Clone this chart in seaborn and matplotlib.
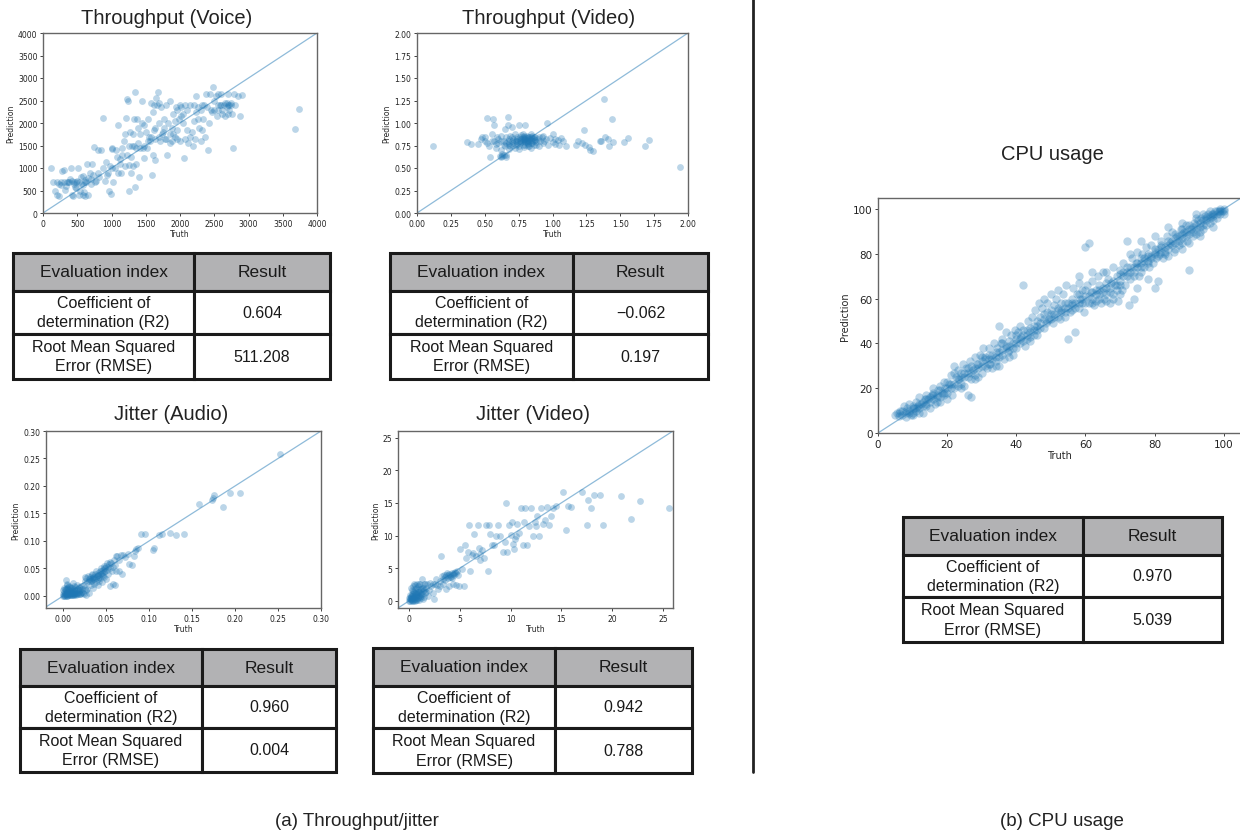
import numpy as np
import pandas as pd
import matplotlib.pyplot as plt
import seaborn as sns
from matplotlib.lines import Line2D

# ---- data ---------------------------------------------------------------
voice_pts = [
    (110, 1000), (150, 700), (180, 480), (200, 690), (210, 390), (230, 380), (240, 650), (260, 700),
    (280, 940), (300, 950), (300, 680), (320, 520), (340, 600), (350, 700), (360, 690), (380, 700),
    (400, 760), (410, 1000), (420, 400), (440, 380), (450, 700), (450, 650), (470, 580), (480, 550),
    (500, 720), (510, 1000), (520, 400), (530, 680), (540, 500), (560, 800), (580, 620), (580, 400),
    (590, 830), (600, 460), (610, 700), (620, 380), (630, 680), (640, 1100), (650, 400), (660, 780),
    (680, 900), (700, 650), (700, 760), (720, 1100), (730, 850), (750, 1470), (760, 700), (780, 720),
    (800, 1400), (800, 900), (820, 800), (850, 1410), (870, 1000), (880, 2120), (900, 720), (920, 1140),
    (940, 850), (950, 900), (960, 500), (980, 1050), (990, 430), (1000, 1450), (1000, 1000), (1010, 1430),
    (1020, 700), (1050, 1000), (1080, 1250), (1100, 1950), (1100, 900), (1120, 1200), (1140, 880),
    (1150, 1450), (1160, 1300), (1180, 1600), (1200, 1750), (1200, 1050), (1210, 2110), (1230, 2540),
    (1230, 1300), (1240, 2500), (1250, 1060), (1250, 1500), (1260, 490), (1270, 1800), (1280, 1250),
    (1290, 880), (1300, 1500), (1310, 1750), (1320, 1050), (1330, 2100), (1330, 1500), (1340, 580),
    (1350, 2680), (1360, 1450), (1370, 2100), (1380, 1900), (1380, 1550), (1400, 790), (1420, 1750),
    (1420, 1450), (1440, 2500), (1450, 2000), (1460, 1450), (1470, 1220), (1480, 1500), (1500, 1800),
    (1520, 1450), (1540, 2100), (1540, 1600), (1550, 1700), (1560, 1600), (1580, 2450), (1580, 1700),
    (1590, 840), (1600, 2250), (1610, 1300), (1620, 1850), (1630, 1170), (1640, 1650), (1640, 1900),
    (1650, 2550), (1660, 2400), (1680, 2700), (1700, 2000), (1700, 1700), (1710, 1600), (1720, 2350),
    (1740, 1750), (1750, 1800), (1760, 2100), (1780, 1650), (1800, 2400), (1800, 1650), (1810, 1300),
    (1830, 2000), (1850, 1750), (1850, 1550), (1860, 2500), (1880, 1600), (1880, 1900), (1900, 2200),
    (1920, 1700), (1920, 2050), (1940, 2350), (1960, 1850), (1960, 2300), (1980, 2100), (2000, 1600),
    (2000, 2400), (2020, 2350), (2040, 2000), (2050, 2200), (2060, 1220), (2080, 1650), (2080, 2400),
    (2100, 2300), (2120, 1550), (2150, 2400), (2150, 1700), (2170, 1800), (2190, 1500), (2200, 2050),
    (2200, 2400), (2220, 1650), (2240, 2600), (2260, 2350), (2260, 2100), (2280, 1900), (2300, 1600),
    (2300, 2300), (2320, 2400), (2340, 2100), (2350, 2400), (2360, 1700), (2380, 2650), (2400, 2350),
    (2410, 1400), (2420, 2000), (2440, 2650), (2450, 2300), (2460, 2250), (2480, 2800), (2500, 2300),
    (2520, 2600), (2540, 2150), (2550, 2300), (2560, 2650), (2580, 2400), (2600, 2650), (2600, 2400),
    (2620, 2200), (2640, 2400), (2650, 2450), (2660, 2150), (2680, 2350), (2700, 2650), (2700, 2400),
    (2700, 2200), (2720, 2400), (2720, 2300), (2740, 2400), (2750, 2450), (2760, 2200), (2780, 1450),
    (2790, 2650), (2810, 2400), (2840, 2600), (2880, 2150), (2900, 2620), (3680, 1870), (3740, 2310),
    (1900, 1750), (1950, 1650), (2010, 2150), (2100, 1850), (2240, 2250), (2320, 1850), (2500, 2500),
    (2560, 2400), (2610, 2300), (2680, 2450), (1700, 2450), (1760, 1900), (1620, 2400), (1480, 1950),
    (560, 650), (620, 730), (480, 680), (260, 620), (420, 720), (1060, 1400), (1130, 1100), (1360, 1100),
]

video_tp_pts = [
    (0.12, 0.75), (0.37, 0.79), (0.40, 0.77), (0.45, 0.77), (0.47, 0.82), (0.48, 0.85), (0.50, 0.80),
    (0.50, 0.84), (0.52, 1.06), (0.52, 0.78), (0.53, 0.75), (0.54, 0.62), (0.55, 0.88), (0.55, 0.80),
    (0.56, 1.04), (0.57, 0.98), (0.57, 0.80), (0.58, 0.72), (0.58, 0.77), (0.59, 0.84), (0.60, 0.78),
    (0.60, 0.82), (0.61, 0.63), (0.62, 0.70), (0.62, 0.86), (0.62, 0.80), (0.62, 0.62), (0.63, 0.63),
    (0.63, 0.66), (0.64, 0.80), (0.64, 0.76), (0.64, 0.64), (0.65, 0.75), (0.65, 0.93), (0.66, 0.62),
    (0.66, 0.84), (0.66, 0.78), (0.66, 0.65), (0.67, 1.07), (0.67, 0.98), (0.67, 0.80), (0.68, 0.71),
    (0.68, 0.78), (0.68, 0.82), (0.69, 0.86), (0.69, 0.74), (0.70, 0.96), (0.70, 0.76), (0.70, 0.80),
    (0.71, 0.82), (0.71, 0.78), (0.72, 0.72), (0.72, 0.88), (0.72, 0.80), (0.73, 0.80), (0.73, 0.76),
    (0.74, 0.77), (0.74, 0.85), (0.74, 0.80), (0.75, 0.98), (0.75, 0.74), (0.75, 0.71), (0.76, 0.82),
    (0.76, 0.78), (0.76, 0.84), (0.77, 0.79), (0.77, 0.87), (0.77, 0.82), (0.78, 0.76), (0.78, 0.84),
    (0.78, 0.80), (0.78, 0.88), (0.79, 0.81), (0.79, 0.73), (0.79, 0.86), (0.80, 0.98), (0.80, 0.79),
    (0.80, 0.82), (0.80, 0.76), (0.81, 0.86), (0.81, 0.83), (0.81, 0.79), (0.82, 0.77), (0.82, 0.80),
    (0.82, 0.84), (0.82, 0.74), (0.83, 0.75), (0.83, 0.84), (0.83, 0.80), (0.84, 0.88), (0.84, 0.81),
    (0.84, 0.78), (0.84, 0.72), (0.85, 0.78), (0.85, 0.83), (0.85, 0.86), (0.86, 0.76), (0.86, 0.80),
    (0.86, 0.82), (0.87, 0.85), (0.87, 0.81), (0.88, 0.79), (0.88, 0.76), (0.89, 0.82), (0.90, 0.75),
    (0.90, 0.84), (0.91, 0.80), (0.92, 0.84), (0.93, 0.78), (0.93, 0.86), (0.94, 0.80), (0.95, 0.82),
    (0.96, 1.00), (0.97, 0.76), (0.98, 0.83), (1.00, 0.88), (1.00, 0.79), (1.02, 0.82), (1.02, 0.77),
    (1.04, 0.81), (1.05, 0.76), (1.06, 0.83), (1.08, 0.80), (1.10, 0.75), (1.17, 0.76), (1.19, 0.80),
    (1.22, 0.78), (1.23, 0.92), (1.24, 0.76), (1.27, 0.73), (1.28, 0.70), (1.30, 0.69), (1.35, 0.80),
    (1.36, 0.80), (1.38, 1.27), (1.39, 0.85), (1.41, 0.82), (1.42, 0.75), (1.44, 1.04), (1.45, 0.79),
    (1.53, 0.79), (1.56, 0.83), (1.68, 0.75), (1.71, 0.81), (1.94, 0.51),
    (0.79, 0.83), (0.81, 0.81), (0.83, 0.82), (0.80, 0.84), (0.78, 0.82), (0.85, 0.80), (0.76, 0.80),
    (0.82, 0.78), (0.84, 0.84), (0.80, 0.80), (0.86, 0.84), (0.74, 0.82), (0.70, 0.84), (0.68, 0.76),
]

audio_pts = [
    (0.000, 0.000), (0.001, 0.002), (0.002, 0.000), (0.002, 0.005), (0.003, 0.001), (0.003, 0.010),
    (0.004, 0.003), (0.004, 0.015), (0.005, 0.000), (0.005, 0.007), (0.006, 0.002), (0.006, 0.012),
    (0.007, 0.004), (0.007, 0.018), (0.008, 0.001), (0.008, 0.009), (0.009, 0.005), (0.009, 0.014),
    (0.010, 0.002), (0.010, 0.010), (0.011, 0.006), (0.011, 0.024), (0.012, 0.003), (0.012, 0.013),
    (0.013, 0.008), (0.014, 0.004), (0.014, 0.016), (0.015, 0.010), (0.016, 0.006), (0.016, 0.020),
    (0.017, 0.012), (0.018, 0.008), (0.019, 0.015), (0.020, 0.010), (0.021, 0.018), (0.022, 0.012),
    (0.023, 0.005), (0.024, 0.020), (0.025, 0.015), (0.026, 0.010), (0.003, 0.029), (0.001, 0.008),
    (0.000, 0.004), (0.002, 0.012), (0.004, 0.020), (0.006, 0.008), (0.008, 0.016), (0.010, 0.005),
    (0.012, 0.018), (0.005, 0.022), (0.001, 0.015), (0.000, 0.010), (0.003, 0.006), (0.007, 0.010),
    (0.009, 0.002), (0.013, 0.001), (0.015, 0.002), (0.017, 0.004), (0.019, 0.003), (0.021, 0.006),
    (0.024, 0.003), (0.027, 0.002), (0.018, 0.017), (0.001, 0.000), (0.004, 0.000), (0.006, 0.005),
    (0.008, 0.003), (0.011, 0.001), (0.013, 0.011), (0.015, 0.006), (0.020, 0.004), (0.022, 0.008),
    (0.025, 0.028), (0.027, 0.032), (0.028, 0.025), (0.030, 0.030), (0.031, 0.035), (0.032, 0.028),
    (0.033, 0.032), (0.034, 0.038), (0.035, 0.030), (0.036, 0.034), (0.037, 0.040), (0.038, 0.033),
    (0.039, 0.036), (0.040, 0.042), (0.041, 0.038), (0.042, 0.035), (0.043, 0.045), (0.044, 0.040),
    (0.045, 0.038), (0.046, 0.048), (0.047, 0.043), (0.048, 0.050), (0.049, 0.045), (0.050, 0.055),
    (0.051, 0.048), (0.052, 0.052), (0.053, 0.058), (0.055, 0.050), (0.056, 0.060), (0.058, 0.053),
    (0.060, 0.056), (0.061, 0.045), (0.062, 0.073), (0.063, 0.072), (0.065, 0.066), (0.067, 0.074),
    (0.070, 0.075), (0.072, 0.070), (0.075, 0.076), (0.077, 0.058), (0.080, 0.056), (0.082, 0.072),
    (0.083, 0.082), (0.085, 0.085), (0.087, 0.088), (0.090, 0.113), (0.095, 0.113), (0.104, 0.084),
    (0.106, 0.088), (0.112, 0.111), (0.115, 0.112), (0.124, 0.114), (0.131, 0.111), (0.140, 0.113),
    (0.158, 0.168), (0.173, 0.174), (0.174, 0.178), (0.176, 0.184), (0.186, 0.162), (0.194, 0.187),
    (0.206, 0.187), (0.252, 0.259), (0.040, 0.020), (0.045, 0.025), (0.055, 0.018), (0.058, 0.022),
    (0.060, 0.020), (0.050, 0.030), (0.035, 0.015), (0.030, 0.005), (0.028, 0.012), (0.032, 0.020),
    (0.038, 0.025), (0.065, 0.045), (0.068, 0.040), (0.042, 0.028), (0.036, 0.022), (0.048, 0.035),
    (0.052, 0.040), (0.057, 0.045), (0.025, 0.034), (0.029, 0.036), (0.033, 0.040), (0.038, 0.045),
    (0.044, 0.050), (0.047, 0.055), (0.051, 0.060), (0.054, 0.062), (0.059, 0.065), (0.040, 0.031),
    (0.043, 0.033), (0.046, 0.036), (0.034, 0.027), (0.031, 0.031), (0.036, 0.031),
    (0.002, 0.003), (0.005, 0.004), (0.007, 0.001), (0.009, 0.008), (0.011, 0.004), (0.014, 0.009),
    (0.016, 0.003), (0.018, 0.011), (0.003, 0.013), (0.006, 0.016), (0.010, 0.014), (0.013, 0.006),
    (0.035, 0.035), (0.040, 0.038), (0.045, 0.042), (0.030, 0.027), (0.044, 0.046), (0.049, 0.050),
]

jitter_video_pts = [
    (0.0, 0.0), (0.1, 0.3), (0.2, 0.1), (0.2, 0.6), (0.3, 0.2), (0.3, 1.0), (0.4, 0.4), (0.4, 1.5),
    (0.5, 0.1), (0.5, 0.8), (0.6, 0.3), (0.6, 1.2), (0.7, 0.6), (0.7, 2.0), (0.8, 0.2), (0.8, 1.0),
    (0.9, 0.5), (0.9, 1.6), (1.0, 0.8), (1.0, 2.5), (1.1, 1.2), (1.2, 0.4), (1.2, 1.8), (1.3, 1.0),
    (1.3, 3.3), (1.4, 1.5), (1.5, 2.5), (1.5, 0.6), (1.6, 1.2), (1.7, 2.0), (1.8, 2.5), (1.9, 0.8),
    (2.0, 1.6), (2.1, 2.8), (2.2, 2.2), (2.3, 1.2), (2.4, 0.3), (2.5, 2.6), (0.0, 0.4), (0.1, 0.9),
    (0.3, 0.5), (0.5, 1.3), (0.6, 2.4), (0.8, 2.5), (0.9, 2.2), (1.1, 2.6), (0.2, 1.9), (0.4, 2.2),
    (0.5, 2.6), (1.4, 0.3), (1.6, 2.6), (0.7, 1.4), (1.0, 0.2), (1.2, 1.1), (0.3, 1.7), (0.6, 0.0),
    (0.9, 0.9), (1.1, 1.8), (1.3, 2.0), (1.5, 1.6), (1.7, 1.4), (0.1, 0.0), (0.2, 0.3), (0.4, 0.0),
    (0.6, 0.7), (0.8, 0.4), (1.0, 1.3), (1.2, 0.8), (1.4, 2.0), (0.3, 0.8), (0.7, 0.2), (0.1, 0.5),
    (2.6, 3.4), (2.8, 1.8), (3.0, 3.0), (3.1, 6.9), (3.2, 3.8), (3.3, 2.5), (3.4, 4.0), (3.5, 3.2),
    (3.6, 1.8), (3.7, 4.2), (3.8, 3.5), (3.9, 2.3), (4.0, 4.0), (4.1, 3.7), (4.2, 4.3), (4.3, 2.6),
    (4.4, 3.9), (4.5, 4.4), (4.6, 2.4), (4.7, 4.6), (4.8, 3.9), (4.9, 2.3), (5.0, 8.0), (5.2, 4.8),
    (5.4, 2.2), (5.5, 8.5), (5.6, 6.6), (5.8, 7.5), (5.9, 11.6), (6.0, 4.6), (6.2, 7.0), (6.4, 10.3),
    (6.6, 6.8), (6.8, 11.6), (7.0, 7.2), (7.2, 7.8), (7.4, 6.5), (7.6, 11.6), (7.8, 4.5), (7.9, 11.6),
    (8.0, 10.2), (8.4, 8.5), (8.6, 9.9), (8.8, 11.6), (9.0, 10.0), (9.2, 7.5), (9.4, 9.0), (9.5, 14.9),
    (9.6, 7.5), (9.8, 11.6), (10.0, 10.1), (10.1, 12.0), (10.2, 8.7), (10.3, 7.9), (10.4, 9.5),
    (10.6, 11.8), (10.8, 10.4), (11.0, 14.2), (11.2, 8.6), (11.4, 14.2), (11.6, 8.5), (11.8, 11.5),
    (12.0, 14.2), (12.2, 10.0), (12.4, 12.0), (12.6, 13.0), (12.8, 10.0), (13.0, 14.2), (13.2, 11.8),
    (13.4, 12.3), (13.6, 14.4), (13.8, 11.6), (14.0, 13.0), (14.2, 14.2), (14.5, 14.5), (15.2, 16.6),
    (15.5, 10.9), (15.7, 14.5), (15.9, 14.4), (17.0, 16.6), (17.5, 11.6), (17.6, 15.4), (17.9, 14.2),
    (18.2, 16.2), (18.8, 16.2), (19.1, 11.6), (20.9, 16.1), (21.9, 12.5), (22.7, 15.3), (25.6, 14.2),
    (3.0, 2.2), (3.3, 3.4), (3.6, 3.9), (3.9, 4.1), (4.2, 3.5), (4.4, 4.2), (2.7, 2.4), (2.3, 2.5),
    (6.3, 7.3), (7.0, 6.2), (8.2, 8.6), (10.5, 10.0), (12.5, 11.5), (11.3, 12.0), (6.9, 8.1),
    (0.2, 0.8), (0.4, 1.1), (0.5, 0.4), (0.7, 1.0), (0.9, 1.3), (1.1, 0.6), (0.3, 0.0), (0.6, 1.8),
    (3.8, 4.0), (4.0, 3.6), (4.3, 4.1), (3.5, 3.7), (4.6, 4.2),
]

cpu_pts = [
    (5, 8), (5.5, 9), (6, 7.5), (6.5, 10), (7, 8), (7.5, 12), (8, 9), (8, 7), (8.5, 11), (9, 10),
    (9, 13), (9.5, 8), (10, 9), (10, 12), (10.5, 11), (11, 10), (11, 14), (11.5, 12), (12, 11),
    (12, 16), (12.5, 13), (13, 12), (13, 9), (13.5, 15), (14, 13), (14, 17), (14.5, 15), (15, 14),
    (15, 11), (15.5, 17), (16, 15), (16, 20), (16.5, 13), (17, 17), (17, 14), (17.5, 19), (18, 16),
    (18, 21), (18.5, 18), (19, 17), (19, 23), (19.5, 20), (20, 18), (20, 15), (20.5, 22), (21, 20),
    (21, 26), (21.5, 17), (22, 22), (22, 30), (22.5, 25), (23, 21), (23, 28), (23.5, 24), (24, 22),
    (24, 27), (24.5, 31), (25, 25), (25, 21), (25.5, 29), (26, 17), (27, 16), (26, 27), (26.5, 32),
    (27, 24), (27, 30), (27.5, 28), (28, 26), (28, 34), (28.5, 31), (29, 29), (29, 25), (29.5, 35),
    (30, 32), (30, 27), (30.5, 38), (31, 30), (31, 34), (31.5, 29), (32, 33), (32, 38), (32.5, 31),
    (33, 35), (33, 29), (33.5, 40), (34, 36), (34, 32), (34.5, 38), (35, 34), (35, 48), (35.5, 40),
    (35, 30), (36, 37), (36, 42), (36.5, 33), (37, 39), (37, 45), (37.5, 36), (38, 41), (38, 37),
    (38.5, 44), (39, 40), (39, 35), (39.5, 46), (40, 42), (40, 38), (40.5, 45), (41, 40), (41, 48),
    (41.5, 43), (42, 44), (42, 66), (42.5, 39), (43, 46), (43, 42), (43.5, 50), (44, 47), (44, 43),
    (44.5, 52), (45, 48), (45, 44), (45.5, 55), (46, 50), (46, 46), (46.5, 58), (47, 52), (47, 47),
    (47.5, 56), (48, 51), (48, 60), (48.5, 49), (49, 54), (49, 58), (49.5, 51), (50, 53), (50, 62),
    (50.5, 49), (51, 57), (51, 52), (51.5, 60), (52, 55), (52, 64), (52.5, 51), (53, 58), (53, 54),
    (53.5, 62), (54, 56), (54, 52), (54.5, 66), (55, 58), (55, 42), (55.5, 54), (56, 60), (56, 55),
    (56.5, 65), (57, 45), (57, 58), (57.5, 62), (58, 56), (58, 67), (58.5, 60), (59, 58), (59, 64),
    (59.5, 54), (60, 61), (60, 83), (60.5, 66), (61, 85), (61, 58), (61.5, 63), (62, 60), (62, 68),
    (62.5, 57), (63, 64), (63, 59), (63.5, 70), (64, 62), (64, 66), (64.5, 58), (65, 63), (65, 72),
    (65.5, 60), (66, 65), (66, 59), (66.5, 69), (67, 63), (67, 58), (67.5, 67), (68, 62), (68, 74),
    (68.5, 66), (69, 64), (69, 70), (69.5, 59), (70, 68), (70, 73), (70.5, 64), (71, 70), (71, 76),
    (71.5, 66), (72, 72), (72, 86), (72.5, 57), (73, 74), (73, 69), (73.5, 78), (74, 72), (74, 60),
    (74.5, 76), (75, 74), (75, 81), (75.5, 70), (76, 76), (76, 72), (76.5, 80), (77, 78), (77, 74),
    (77.5, 83), (78, 77), (78, 80), (78.5, 74), (79, 79), (79, 84), (79.5, 76), (80, 80), (80, 65),
    (80.5, 78), (81, 82), (81, 68), (81.5, 80), (82, 81), (82, 86), (82.5, 78), (83, 83), (83, 80),
    (83.5, 88), (84, 82), (84, 79), (84.5, 85), (85, 84), (85, 90), (85.5, 81), (86, 85), (86, 82),
    (86.5, 88), (87, 86), (87, 84), (87.5, 91), (88, 87), (88, 85), (88.5, 90), (89, 88), (89, 93),
    (89.5, 86), (90, 89), (90, 73), (90.5, 91), (91, 90), (91, 88), (91.5, 94), (92, 91), (92, 89),
    (92.5, 95), (93, 92), (93, 90), (93.5, 96), (94, 93), (94, 91), (94.5, 97), (95, 95), (95, 93),
    (95.5, 98), (96, 96), (96, 94), (96.5, 98), (97, 97), (97, 95), (97.5, 99), (98, 98), (98, 96),
    (98.5, 99), (99, 98), (99, 100), (99.5, 99), (100, 99), (100, 98), (100, 100), (96, 99), (97, 92),
    (93, 88), (90, 85), (88, 82),
    (6, 9), (7, 10), (9, 9), (10, 8), (11, 11), (12, 13), (13, 14), (14, 12), (15, 16), (16, 17),
    (17, 16), (18, 19), (19, 18), (20, 20), (21, 22), (22, 20), (23, 24), (24, 25), (25, 27), (26, 25),
    (27, 27), (28, 29), (29, 31), (30, 30), (31, 33), (32, 31), (33, 33), (34, 34), (35, 36), (36, 35),
    (37, 38), (38, 39), (39, 38), (40, 40), (41, 42), (42, 41), (43, 44), (44, 45), (45, 46), (46, 48),
    (47, 49), (48, 47), (49, 50), (50, 51), (51, 53), (52, 52), (53, 55), (54, 54), (55, 56), (56, 58),
    (57, 56), (58, 58), (59, 60), (60, 58), (61, 61), (62, 63), (63, 62), (64, 60), (65, 65), (66, 62),
    (67, 65), (68, 68), (69, 66), (70, 71), (71, 72), (72, 70), (73, 72), (74, 74), (75, 76), (76, 74),
    (77, 77), (78, 79), (79, 78), (80, 82), (81, 79), (82, 83), (83, 81), (84, 84), (85, 86), (86, 87),
    (87, 88), (88, 89), (89, 90), (90, 91), (91, 92), (92, 93), (93, 94), (94, 95), (95, 96), (96, 97),
    (97, 98), (98, 99), (99, 99), (92, 96), (94, 98), (90, 93), (88, 91), (86, 89), (84, 86), (82, 84),
    (80, 81), (78, 76), (76, 78), (74, 70), (72, 74), (70, 66), (68, 60), (66, 67), (64, 64), (62, 58),
    (60, 64), (58, 62), (56, 57), (54, 58), (52, 56), (50, 55), (48, 53), (46, 44), (44, 41), (42, 46),
    (40, 44), (38, 34), (36, 40), (34, 30), (32, 35), (30, 34), (28, 24), (26, 29), (24, 20), (22, 27),
    (20, 23), (18, 14), (16, 18), (14, 15), (12, 9), (10, 11), (8, 10), (70, 62), (75, 65), (78, 69),
    (73, 80), (66, 72), (62, 72), (58, 70), (76, 86), (80, 88), (84, 92), (88, 94), (92, 98),
]

table_header = ["Evaluation index", "Result"]
table_rows = ["Coefficient of\ndetermination (R2)", "Root Mean Squared\nError (RMSE)"]
r2_values = ["0.604", "\u22120.062", "0.960", "0.942", "0.970"]
rmse_values = ["511.208", "0.197", "0.004", "0.788", "5.039"]
titles = ["Throughput (Voice)", "Throughput (Video)", "Jitter (Audio)", "Jitter (Video)", "CPU usage"]

W, H = 1240, 837
BLUE = "#1f77b4"
SANS = "Liberation Sans"


def px(l, t, r, b):
    return [l / W, 1 - b / H, (r - l) / W, (b - t) / H]


def scatter_panel(fig, rect, pts, lims, ticks, fmt, size, tick_fs, label_fs):
    df = pd.DataFrame(pts, columns=["Truth", "Prediction"])
    ax = fig.add_axes(rect)
    sns.scatterplot(data=df, x="Truth", y="Prediction", ax=ax, color=BLUE,
                    alpha=0.3, s=size, linewidth=0)
    ax.axline((0, 0), slope=1, color=BLUE, alpha=0.5, lw=0.9)
    ax.set_xlim(lims[0])
    ax.set_ylim(lims[1])
    ax.set_xticks(ticks[0])
    ax.set_yticks(ticks[1])
    ax.set_xticklabels([fmt.format(t) for t in ticks[0]])
    ax.set_yticklabels([fmt.format(t) for t in ticks[1]])
    ax.tick_params(labelsize=tick_fs, length=2.5, width=0.6, pad=1.5, colors="#222222")
    ax.xaxis.label.set_size(label_fs)
    ax.yaxis.label.set_size(label_fs)
    ax.xaxis.labelpad = 1
    ax.yaxis.labelpad = 2
    for sp in ax.spines.values():
        sp.set_visible(True)
        sp.set_color("#666666")
        sp.set_linewidth(1.0)
    return ax


def result_table(fig, rect, r2, rmse, split):
    ax = fig.add_axes(rect)
    ax.axis("off")
    cells = [table_header, [table_rows[0], r2], [table_rows[1], rmse]]
    tbl = ax.table(cellText=cells, colWidths=[split, 1 - split], cellLoc="center",
                   bbox=[0, 0, 1, 1])
    tbl.auto_set_font_size(False)
    heights = [0.30, 0.34, 0.36]
    for (r, c), cell in tbl.get_celld().items():
        cell.set_height(heights[r])
        cell.set_linewidth(2.2)
        cell.set_edgecolor("#1a1a1a")
        txt = cell.get_text()
        txt.set_fontfamily(SANS)
        txt.set_color("#1a1a1a")
        if r == 0:
            cell.set_facecolor("#b2b2b4")
            txt.set_fontsize(12.5)
        else:
            txt.set_fontsize(11.5)
            txt.set_linespacing(1.35)
    return ax


def main():
    sns.set_style("ticks")
    plt.rcParams["font.family"] = ["DejaVu Sans"]
    fig = plt.figure(figsize=(W / 100, H / 100), dpi=100)

    scatter_panel(fig, px(43, 34, 317, 214), voice_pts, [(0, 4000), (0, 4000)],
                  [np.arange(0, 4001, 500), np.arange(0, 4001, 500)], "{:.0f}", 24, 5.5, 5.5)
    scatter_panel(fig, px(417, 34, 688, 214), video_tp_pts, [(0, 2), (0, 2)],
                  [np.arange(0, 2.01, 0.25), np.arange(0, 2.01, 0.25)], "{:.2f}", 24, 5.5, 5.5)
    scatter_panel(fig, px(46, 432, 321, 609), audio_pts, [(-0.02, 0.30), (-0.022, 0.30)],
                  [np.arange(0, 0.301, 0.05), np.arange(0, 0.301, 0.05)], "{:.2f}", 24, 5.5, 5.5)
    scatter_panel(fig, px(398, 432, 673, 609), jitter_video_pts, [(-1.1, 26), (-1.1, 26)],
                  [np.arange(0, 26, 5), np.arange(0, 26, 5)], "{:.0f}", 24, 5.5, 5.5)
    scatter_panel(fig, px(878, 199, 1241, 434), cpu_pts, [(0, 105), (0, 105)],
                  [np.arange(0, 101, 20), np.arange(0, 101, 20)], "{:.0f}", 36, 7.5, 7)

    title_pos = [(167, 19), (549, 19), (171, 415), (533, 415), (1052, 154)]
    for (x, y), t in zip(title_pos, titles):
        fig.text(x / W, 1 - y / H, t, ha="center", va="center", fontsize=14.5,
                 family=SANS, color="#222222")

    result_table(fig, px(13, 254, 330, 380), r2_values[0], rmse_values[0], 0.571)
    result_table(fig, px(390, 254, 708, 380), r2_values[1], rmse_values[1], 0.575)
    result_table(fig, px(20, 650, 336, 773), r2_values[2], rmse_values[2], 0.576)
    result_table(fig, px(373, 649, 692, 774), r2_values[3], rmse_values[3], 0.571)
    result_table(fig, px(903, 518, 1222, 643), r2_values[4], rmse_values[4], 0.564)

    fig.add_artist(Line2D([753 / W, 753 / W], [1, 1 - 773 / H], color="#222222", lw=2))
    fig.text(357 / W, 1 - 822 / H, "(a) Throughput/jitter", ha="center", va="center",
             fontsize=13.5, family=SANS, color="#222222")
    fig.text(1062 / W, 1 - 822 / H, "(b) CPU usage", ha="center", va="center",
             fontsize=13.5, family=SANS, color="#222222")

    fig.savefig("out.png", dpi=100)


if __name__ == "__main__":
    main()
